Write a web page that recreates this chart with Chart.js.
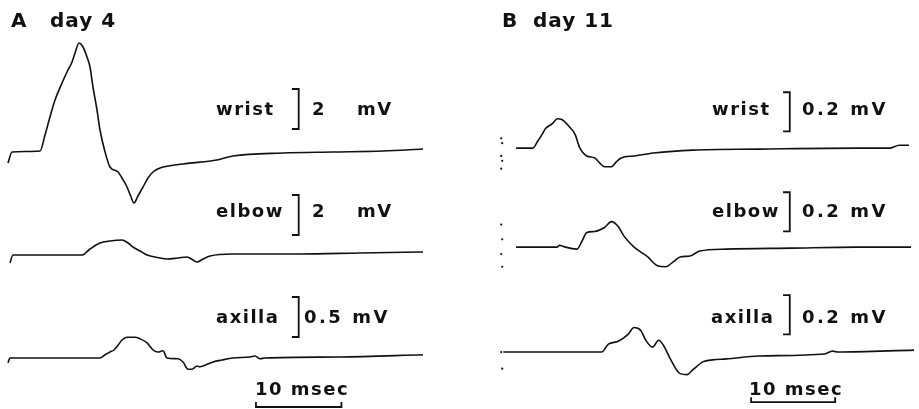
<!DOCTYPE html>
<html>
<head>
<meta charset="utf-8">
<script src="https://cdn.jsdelivr.net/npm/chart.js@4.4.1/dist/chart.umd.min.js"></script>
<style>
body { margin: 0; background: #fff; }
#fig { position: relative; width: 919px; height: 409px; overflow: hidden; background: #fff; }
.panel { position: absolute; top: 0; height: 409px; }
.lbl {
  position: absolute;
  font-family: "DejaVu Sans", sans-serif;
  font-weight: bold;
  font-size: 18px;
  line-height: 18px;
  letter-spacing: 1.5px;
  color: #111;
  white-space: pre;
}
.ttl { font-size: 20px; line-height: 20px; letter-spacing: 1px; }
</style>
</head>
<body>
<div id="fig">
  <div class="panel" style="left:0;width:460px"><canvas id="chartA"></canvas></div>
  <div class="panel" style="left:460px;width:459px"><canvas id="chartB"></canvas></div>
</div>
<script>
// traces: time in msec from sweep start, amplitude in mV
var aWristT  = [0, 0.47, 3.74, 4.33, 4.91, 5.5, 6.32, 6.9, 7.49, 7.84, 8.3, 8.77, 9.24, 9.59, 9.94, 10.41, 10.76, 11.35, 11.93, 12.87, 13.33, 13.92, 14.39, 14.74, 15.2, 15.79, 16.37, 16.96, 17.78, 20.47, 24.44, 26.32, 32.16, 38.01, 43.86, 48.54];
var aWristMv = [-0.55, 0, 0.05, 0.85, 1.75, 2.6, 3.45, 4.0, 4.5, 4.95, 5.45, 5.25, 4.75, 4.25, 3.25, 2.1, 1.1, 0, -0.75, -1.0, -1.3, -1.75, -2.25, -2.55, -2.2, -1.75, -1.3, -1.0, -0.8, -0.6, -0.4, -0.2, -0.05, 0, 0.05, 0.15];

var aElbowT  = [0.23, 0.58, 8.65, 9.59, 10.76, 11.93, 13.33, 14.04, 14.62, 15.44, 16.26, 17.78, 18.6, 19.88, 20.94, 21.64, 22.11, 22.81, 23.63, 26.32, 34.15, 41.17, 48.54];
var aElbowMv = [-0.4, 0, 0, 0.3, 0.6, 0.7, 0.75, 0.6, 0.4, 0.2, 0, -0.15, -0.2, -0.15, -0.1, -0.25, -0.35, -0.2, -0.05, 0.05, 0.05, 0.1, 0.15];

var aAxillaT  = [0, 0.23, 10.76, 11.35, 11.93, 12.4, 12.87, 13.33, 13.92, 14.85, 15.44, 16.26, 16.96, 17.54, 18.13, 18.6, 19.88, 20.47, 21.05, 21.52, 22.11, 22.46, 23.04, 23.98, 25.03, 26.32, 28.3, 28.9, 29.47, 30.06, 38.8, 48.54];
var aAxillaMv = [-0.06, 0, 0, 0.04, 0.075, 0.1, 0.16, 0.225, 0.26, 0.26, 0.24, 0.19, 0.1, 0.075, 0.09, 0, -0.01, -0.05, -0.14, -0.14, -0.1, -0.11, -0.09, -0.05, -0.025, 0, 0.0125, 0.025, -0.01, 0, 0.0125, 0.04];

var bWristT  = [1.52, 3.51, 4.09, 4.68, 5.03, 5.85, 6.43, 7.02, 7.84, 8.54, 9.12, 9.94, 10.88, 11.46, 12.05, 12.87, 13.45, 14.04, 15.56, 17.89, 22.57, 30.41, 42.11, 45.96, 47.13, 48.3];
var bWristMv = [0, 0, 0.035, 0.075, 0.1, 0.125, 0.15, 0.145, 0.11, 0.07, 0, -0.04, -0.05, -0.075, -0.095, -0.095, -0.07, -0.05, -0.04, -0.025, -0.01, -0.005, 0, 0, 0.015, 0.015];

var bElbowT  = [1.52, 6.43, 6.67, 7.37, 8.77, 9.36, 9.94, 10.88, 12.05, 12.87, 13.68, 14.39, 15.56, 16.37, 17.19, 18.36, 19.3, 20.23, 21.05, 22.22, 23.39, 26.55, 34.27, 42.11, 48.54];
var bElbowMv = [0, 0, 0.01, 0, -0.01, 0.03, 0.075, 0.08, 0.1, 0.13, 0.105, 0.055, 0, -0.025, -0.05, -0.095, -0.1, -0.075, -0.05, -0.045, -0.02, -0.01, -0.005, 0, 0];

var bAxillaT  = [0, 7.02, 11.7, 12.51, 13.68, 14.85, 15.56, 16.37, 16.96, 17.78, 18.48, 19.06, 19.88, 21.05, 21.87, 22.57, 23.74, 24.91, 26.55, 30.41, 38.25, 39.18, 39.77, 48.89];
var bAxillaMv = [0, 0, 0, 0.04, 0.055, 0.09, 0.125, 0.11, 0.06, 0.025, 0.06, 0.035, -0.035, -0.11, -0.115, -0.09, -0.05, -0.04, -0.035, -0.02, -0.01, 0.005, 0, 0.01];

// stray trigger marks at the start of the day-11 sweeps (mV)
var bWristMarks  = [0.05, 0.025, -0.04, -0.065, -0.105];
var bElbowMarks  = [0.115, 0.04, -0.035, -0.1];
var bAxillaMarks = [0, -0.085];

// calibration values
var aCalMv = [2, 2, 0.5];
var bCalMv = [0.2, 0.2, 0.2];
var timeBarMs = 10;

// layout (pixels)
var H = 409, MS_PX = 8.55, DIV_PX = 40;

function divY(px) { return (H - px) / DIV_PX; }

var panels = [
  { id: 'chartA', width: 460, origin: 8, calX: 34.0, tbarX: 29.0, tbarY: 407,
    rows: [
      { t: aWristT,  v: aWristMv,  cal: aCalMv[0], base: 152, barBottom: 129 },
      { t: aElbowT,  v: aElbowMv,  cal: aCalMv[1], base: 255, barBottom: 235 },
      { t: aAxillaT, v: aAxillaMv, cal: aCalMv[2], base: 358, barBottom: 337 }
    ] },
  { id: 'chartB', width: 459, origin: 40, calX: 34.1, tbarX: 29.5, tbarY: 406,
    rows: [
      { t: bWristT,  v: bWristMv,  cal: bCalMv[0], base: 147, barBottom: 130, marks: bWristMarks },
      { t: bElbowT,  v: bElbowMv,  cal: bCalMv[1], base: 248, barBottom: 232, marks: bElbowMarks },
      { t: bAxillaT, v: bAxillaMv, cal: bCalMv[2], base: 355, barBottom: 337, marks: bAxillaMarks }
    ] }
];

var labels = [
  ['A', 11, 27, 'ttl'], ['day 4', 50, 27, 'ttl'],
  ['wrist', 216, 115], ['2', 312, 115], ['mV', 357, 115],
  ['elbow', 216, 217], ['2', 312, 217], ['mV', 357, 217],
  ['axilla', 216, 323], ['0.5 mV', 304, 323, 'wide'],
  ['10 msec', 255, 395],
  ['B', 502, 27, 'ttl'], ['day 11', 533, 27, 'ttl'],
  ['wrist', 712, 115], ['0.2 mV', 802, 115, 'wide'],
  ['elbow', 712, 217], ['0.2 mV', 802, 217, 'wide'],
  ['axilla', 711, 323], ['0.2 mV', 802, 323, 'wide'],
  ['10 msec', 749, 395]
];

labels.forEach(function (l) {
  var d = document.createElement('div');
  d.className = 'lbl' + (l[3] === 'ttl' ? ' ttl' : '');
  d.textContent = l[0];
  var asc = l[3] === 'ttl' ? 17 : 15.2;
  d.style.left = l[1] + 'px';
  d.style.top = (l[2] - asc) + 'px';
  if (l[3] === 'wide') d.style.letterSpacing = '2.5px';
  document.getElementById('fig').appendChild(d);
});

panels.forEach(function (p) {
  var datasets = [];
  p.rows.forEach(function (r) {
    var base = divY(r.base);
    var gain = 1 / r.cal;   // one calibration step = one division
    var pts = r.t.map(function (t, i) { return { x: t, y: base + r.v[i] * gain }; });
    datasets.push({ data: pts, borderColor: '#111', borderWidth: 1.6,
                    cubicInterpolationMode: 'monotone', pointRadius: 0 });
    // calibration bracket
    var b0 = divY(r.barBottom), b1 = b0 + r.cal * gain;
    datasets.push({ data: [ { x: p.calX - 0.8, y: b1 }, { x: p.calX, y: b1 },
                            { x: p.calX, y: b0 }, { x: p.calX - 0.8, y: b0 } ],
                    borderColor: '#111', borderWidth: 1.8, pointRadius: 0, tension: 0 });
    if (r.marks) {
      datasets.push({ data: r.marks.map(function (m, i) { return { x: -0.25 + (i % 2) * 0.12, y: base + m * gain }; }),
                      showLine: false, pointRadius: 1.1, pointBackgroundColor: '#111',
                      pointBorderWidth: 0 });
    }
  });
  // 10 msec bar
  var ty = divY(p.tbarY), tt = divY(p.tbarY - 5);
  datasets.push({ data: [ { x: p.tbarX, y: tt }, { x: p.tbarX, y: ty },
                          { x: p.tbarX + timeBarMs, y: ty }, { x: p.tbarX + timeBarMs, y: tt } ],
                  borderColor: '#111', borderWidth: 1.8, pointRadius: 0, tension: 0 });

  var xmin = -p.origin / MS_PX;
  new Chart(document.getElementById(p.id), {
    type: 'line',
    data: { datasets: datasets },
    options: {
      responsive: true,
      maintainAspectRatio: false,
      animation: false,
      layout: { padding: 0 },
      plugins: { legend: { display: false }, tooltip: { enabled: false } },
      scales: {
        x: { type: 'linear', display: false, min: xmin, max: xmin + p.width / MS_PX },
        y: { type: 'linear', display: false, min: 0, max: H / DIV_PX }
      }
    }
  });
});
</script>
</body>
</html>
